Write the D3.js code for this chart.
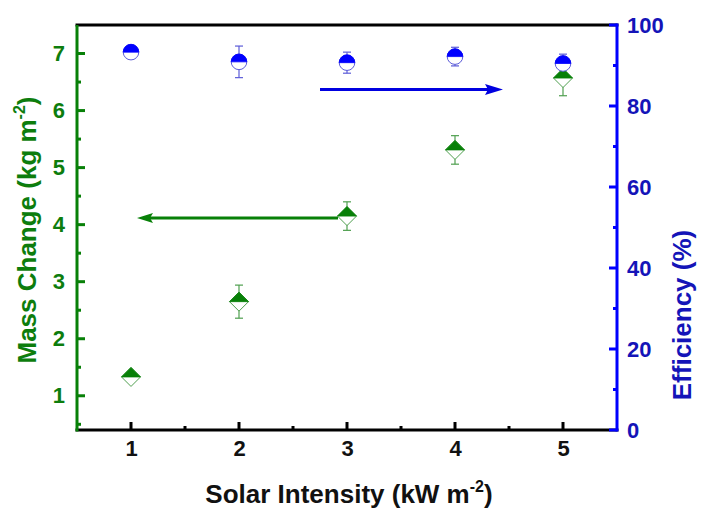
<!DOCTYPE html>
<html>
<head>
<meta charset="utf-8">
<script src="https://cdn.jsdelivr.net/npm/d3@7"></script>
<style>
  html, body { margin: 0; padding: 0; background: #fff; }
  svg { display: block; font-family: "Liberation Sans", Arial, sans-serif; font-weight: bold; }
</style>
</head>
<body>
<svg id="chart" width="707" height="508"></svg>
<script>
// Solar intensity (kW m^-2)
const intensity = [1, 2, 3, 4, 5];
// Mass change (kg m^-2) with error
const massChange = [1.33, 2.65, 4.15, 5.31, 6.57];
const massErr = [0.08, 0.29, 0.25, 0.25, 0.31];
// Evaporation efficiency (%) with error
const efficiency = [93.3, 90.9, 90.7, 92.2, 90.5];
const effErr = [1.0, 3.9, 2.6, 2.3, 2.3];

const xTicks = [1, 2, 3, 4, 5];
const massTicks = [1, 2, 3, 4, 5, 6, 7];
const effTicks = [0, 20, 40, 60, 80, 100];

const GREEN = "#088008", GREEN_TXT = "#0d7d0d", GREEN_LT = "#4f9f4f";
const BLUE = "#0000ff", BLUE_TXT = "#1414b8", BLUE_LT = "#5c5cd8";
const FONT = "Liberation Sans, Arial, sans-serif";
const TICK_FS = 22, TITLE_FS = 26;

const svg = d3.select("#chart");
const L = 77, R = 617, T = 25, B = 430;

const x = d3.scaleLinear().domain([0.5, 5.5]).range([L, R]);
const yM = d3.scaleLinear().domain([0.4, 7.5]).range([B, T]);
const yE = d3.scaleLinear().domain([0, 100]).range([B, T]);

// frame: top / bottom black, left green, right blue
svg.append("line").attr("x1", L - 1.5).attr("x2", R + 1.5).attr("y1", T).attr("y2", T)
  .attr("stroke", "#000").attr("stroke-width", 3);
svg.append("line").attr("x1", L - 1.5).attr("x2", R + 1.5).attr("y1", B).attr("y2", B)
  .attr("stroke", "#000").attr("stroke-width", 3);

// x axis ticks (inward) and labels
const xg = svg.append("g").attr("transform", `translate(0,${B})`)
  .call(d3.axisBottom(x).tickValues(xTicks).tickSize(0).tickPadding(10).tickFormat(d3.format("d")));
xg.select(".domain").remove();
xg.selectAll("text").attr("font-size", TICK_FS).attr("fill", "#111").attr("font-weight", "bold")
  .attr("font-family", FONT);
const xMinor = d3.range(1.5, 5.5, 1);
svg.append("g").selectAll("line").data(xTicks).join("line")
  .attr("x1", d => x(d)).attr("x2", d => x(d)).attr("y1", B).attr("y2", B - 8)
  .attr("stroke", "#000").attr("stroke-width", 3);
svg.append("g").selectAll("line").data(xMinor).join("line")
  .attr("x1", d => x(d)).attr("x2", d => x(d)).attr("y1", B).attr("y2", B - 4)
  .attr("stroke", "#000").attr("stroke-width", 3);

// left axis (mass change)
svg.append("line").attr("x1", L).attr("x2", L).attr("y1", T).attr("y2", B + 1.5)
  .attr("stroke", GREEN).attr("stroke-width", 3);
const lg = svg.append("g").attr("transform", `translate(${L},0)`)
  .call(d3.axisLeft(yM).tickValues(massTicks).tickSize(0).tickPadding(12).tickFormat(d3.format("d")));
lg.select(".domain").remove();
lg.selectAll("text").attr("font-size", TICK_FS).attr("fill", GREEN_TXT).attr("font-weight", "bold")
  .attr("font-family", FONT);
svg.append("g").selectAll("line").data(massTicks).join("line")
  .attr("x1", L).attr("x2", L + 8).attr("y1", d => yM(d)).attr("y2", d => yM(d))
  .attr("stroke", GREEN).attr("stroke-width", 3);
svg.append("g").selectAll("line").data(d3.range(0.5, 7.5, 1)).join("line")
  .attr("x1", L).attr("x2", L + 4).attr("y1", d => yM(d)).attr("y2", d => yM(d))
  .attr("stroke", GREEN).attr("stroke-width", 3);

// right axis (efficiency)
svg.append("line").attr("x1", R).attr("x2", R).attr("y1", T - 1.5).attr("y2", B + 1.5)
  .attr("stroke", BLUE).attr("stroke-width", 3);
const rg = svg.append("g").attr("transform", `translate(${R},0)`)
  .call(d3.axisRight(yE).tickValues(effTicks).tickSize(0).tickPadding(10).tickFormat(d3.format("d")));
rg.select(".domain").remove();
rg.selectAll("text").attr("font-size", TICK_FS).attr("fill", BLUE_TXT).attr("font-weight", "bold")
  .attr("font-family", FONT);
svg.append("g").selectAll("line").data(effTicks).join("line")
  .attr("x1", R).attr("x2", R - 8).attr("y1", d => yE(d)).attr("y2", d => yE(d))
  .attr("stroke", BLUE).attr("stroke-width", 3);
svg.append("g").selectAll("line").data(d3.range(10, 100, 20)).join("line")
  .attr("x1", R).attr("x2", R - 4).attr("y1", d => yE(d)).attr("y2", d => yE(d))
  .attr("stroke", BLUE).attr("stroke-width", 3);

// axis titles
svg.append("text").attr("x", 349).attr("y", 503).attr("text-anchor", "middle")
  .attr("font-size", TITLE_FS).attr("fill", "#111")
  .call(t => {
    t.append("tspan").text("Solar Intensity (kW m");
    t.append("tspan").attr("font-size", 16).attr("dy", -11).text("-2");
    t.append("tspan").attr("dy", 11).text(")");
  });
svg.append("text").attr("transform", "translate(36,230) rotate(-90)").attr("text-anchor", "middle")
  .attr("font-size", TITLE_FS).attr("fill", GREEN_TXT)
  .call(t => {
    t.append("tspan").text("Mass Change (kg m");
    t.append("tspan").attr("font-size", 16).attr("dy", -11).text("-2");
    t.append("tspan").attr("dy", 11).text(")");
  });
svg.append("text").attr("transform", "translate(691,315) rotate(-90)").attr("text-anchor", "middle")
  .attr("font-size", TITLE_FS).attr("fill", BLUE_TXT).text("Efficiency (%)");

// direction arrows pointing to each series' axis
const gArrowY = 218, gx0 = 338, gx1 = 137;
svg.append("line").attr("x1", gx0).attr("x2", gx1 + 10).attr("y1", gArrowY).attr("y2", gArrowY)
  .attr("stroke", GREEN).attr("stroke-width", 3);
svg.append("path")
  .attr("d", `M${gx1},${gArrowY} L${gx1 + 16},${gArrowY - 5} L${gx1 + 13},${gArrowY} L${gx1 + 16},${gArrowY + 5} Z`)
  .attr("fill", GREEN);

const bArrowY = 89.5, bx0 = 320, bx1 = 503;
svg.append("line").attr("x1", bx0).attr("x2", bx1 - 10).attr("y1", bArrowY).attr("y2", bArrowY)
  .attr("stroke", "#0000e0").attr("stroke-width", 3);
svg.append("path")
  .attr("d", `M${bx1},${bArrowY} L${bx1 - 18},${bArrowY - 5.5} L${bx1 - 15},${bArrowY} L${bx1 - 18},${bArrowY + 5.5} Z`)
  .attr("fill", "#0000e0");

// error bars
function errorBars(vals, errs, yScale, color) {
  const g = svg.append("g").attr("stroke", color).attr("stroke-width", 1.2).attr("fill", "none");
  vals.forEach((v, i) => {
    const cx = x(intensity[i]);
    const y1 = yScale(v + errs[i]), y2 = yScale(v - errs[i]);
    g.append("line").attr("x1", cx).attr("x2", cx).attr("y1", y1).attr("y2", y2);
    g.append("line").attr("x1", cx - 4).attr("x2", cx + 4).attr("y1", y1).attr("y2", y1);
    g.append("line").attr("x1", cx - 4).attr("x2", cx + 4).attr("y1", y2).attr("y2", y2);
  });
}
errorBars(massChange, massErr, yM, GREEN_LT);
errorBars(efficiency, effErr, yE, BLUE_LT);

// mass change markers: diamond, upper half filled
const dr = 9.5;
const dia = svg.append("g").selectAll("g").data(massChange).join("g")
  .attr("transform", (d, i) => `translate(${x(intensity[i])},${yM(d)})`);
dia.append("path").attr("d", `M0,${-dr} L${dr},0 L0,${dr} L${-dr},0 Z`)
  .attr("fill", "#fff").attr("stroke", GREEN_LT).attr("stroke-width", 1);
dia.append("path").attr("d", `M0,${-dr} L${dr},0 L${-dr},0 Z`)
  .attr("fill", GREEN).attr("stroke", GREEN).attr("stroke-width", 0.8);

// efficiency markers: circle, upper half filled
const cr = 7.8;
const cir = svg.append("g").selectAll("g").data(efficiency).join("g")
  .attr("transform", (d, i) => `translate(${x(intensity[i])},${yE(d)})`);
cir.append("circle").attr("r", cr).attr("fill", "#fff").attr("stroke", BLUE_LT).attr("stroke-width", 1);
cir.append("path").attr("d", `M${-cr},0 A${cr},${cr} 0 0 1 ${cr},0 Z`)
  .attr("fill", BLUE).attr("stroke", BLUE).attr("stroke-width", 0.8);
</script>
</body>
</html>
